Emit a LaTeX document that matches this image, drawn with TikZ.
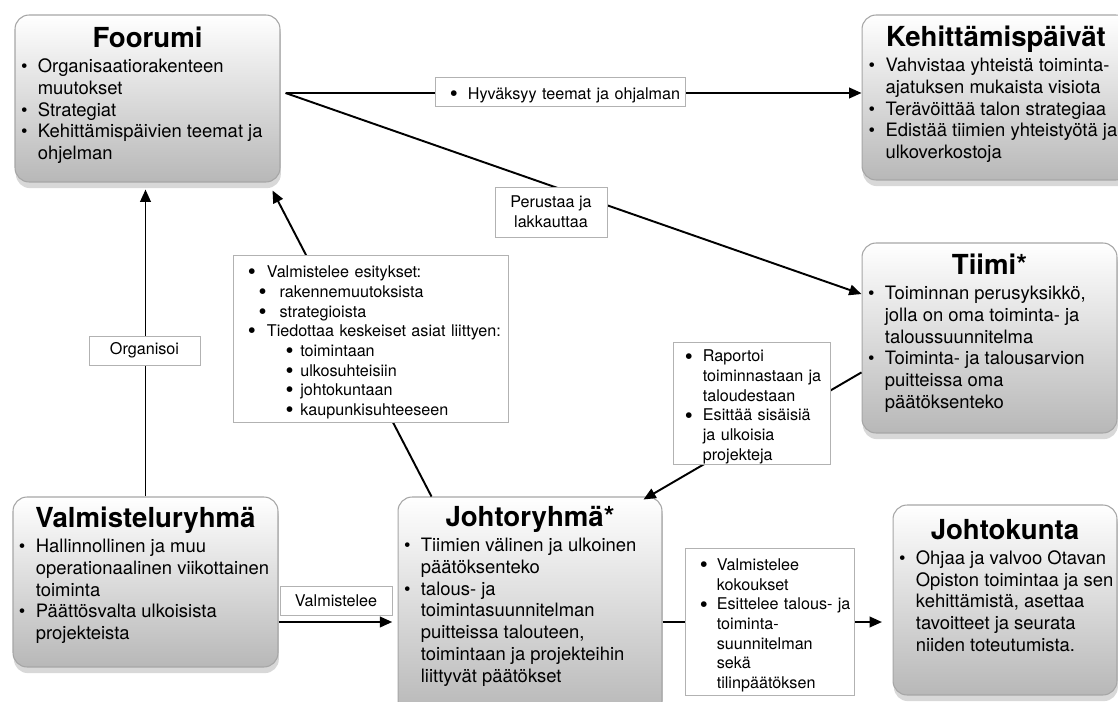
\documentclass[tikz,border=0pt]{standalone}
\usepackage{fontspec}
\setmainfont{TeX Gyre Heros}
\usetikzlibrary{arrows.meta, shadows, calc}

\newcommand{\titlefont}{\fontsize{15.7}{18}\selectfont\bfseries}
\newcommand{\bodyfont}{\normalfont\fontsize{10.5}{12.4}\selectfont}
\newcommand{\lblfont}{\fontsize{9.2}{11.2}\selectfont}

\newlength\bulw
\setlength\bulw{9.6pt}
\newcommand{\bulsym}{\textbullet}
\newcommand{\bul}[2][3.4pt]{\par\noindent\rightskip=-6pt plus 1fil\hyphenpenalty=10000
  \hangindent=\dimexpr#1+\bulw\relax\hangafter=1
  \hspace*{#1}\makebox[\bulw][l]{\bulsym}#2\par}
% width, height, top to title baseline, title, items
\newcommand{\paneltext}[5]{\parbox[c][#2][t]{#1}{\centering\rule{0pt}{#3}{\titlefont #4\par}
  \vspace{1.6pt}\raggedright\bodyfont #5}}
% bigger dot in the connector labels
\newcommand{\tagdot}{\renewcommand{\bulsym}{\smash{\raisebox{-0.25ex}{\fontsize{13}{13}\selectfont\textbullet}}}}

\begin{document}
\begin{tikzpicture}[x=0.02cm, y=-0.02cm,
    panel/.style={rectangle, rounded corners=8pt, draw=black!35, line width=0.6pt,
      top color=white, bottom color=black!28,
      drop shadow={shadow xshift=0.5pt, shadow yshift=-3.5pt, opacity=0.3}, inner sep=0pt},
    tag/.style={rectangle, draw=black!30, line width=0.5pt, fill=white, inner sep=0pt, font=\lblfont},
    link/.style={-{Triangle[length=7pt,width=6pt]}, line width=1.1pt}
]
\path[use as bounding box, fill=white] (0,0) rectangle (1118,702);

% main groups
\node[panel] (foorumi) at (147.5,98.5) {\paneltext{5.3cm}{3.34cm}{18.7pt}{Foorumi}{%
  \bul{Organisaatiorakenteen\newline muutokset}
  \bul{Strategiat}
  \bul{Kehittämispäivien teemat ja\newline ohjelman}}};
\node[panel] (kehitys) at (996,97.5) {\paneltext{5.36cm}{3.3cm}{18.2pt}{Kehittämispäivät}{%
  \bul[3.8pt]{Vahvistaa yhteistä toiminta-\newline ajatuksen mukaista visiota}
  \bul[3.8pt]{Terävöittää talon strategiaa}
  \bul[3.8pt]{Edistää tiimien yhteistyötä ja\newline ulkoverkostoja}}};
\node[panel] (tiimi) at (989.5,338) {\paneltext{5.1cm}{3.8cm}{18.2pt}{Tiimi*}{%
  \bul{Toiminnan perusyksikkö,\newline jolla on oma toiminta- ja\newline taloussuunnitelma}
  \bul{Toiminta- ja talousarvion\newline puitteissa oma\newline päätöksenteko}}};
\node[panel] (valmistelu) at (145.5,582) {\paneltext{5.3cm}{3.4cm}{17.6pt}{Valmisteluryhmä}{%
  \bul{Hallinnollinen ja muu\newline operationaalinen viikottainen\newline toiminta}
  \bul{Päättösvalta ulkoisista\newline projekteista}}};
\node[panel] (johto) at (530,606) {\paneltext{5.28cm}{4.36cm}{17pt}{Johtoryhmä*}{%
  \bul{Tiimien välinen ja ulkoinen\newline päätöksenteko}
  \bul{talous- ja\newline toimintasuunnitelman\newline puitteissa talouteen,\newline toimintaan ja projekteihin\newline liittyvät päätökset}}};
\node[panel] (kunta) at (1005,600) {\paneltext{4.48cm}{3.8cm}{19.8pt}{Johtokunta}{%
  \bul{Ohjaa ja valvoo Otavan\newline Opiston toimintaa ja sen\newline kehittämistä, asettaa\newline tavoitteet ja seurata\newline niiden toteutumista.}}};

% connectors
\coordinate (ulos) at ($(foorumi.east)+(5,-5.5)$);
\coordinate (v1) at ($(valmistelu.east)+(0,40)$);
\coordinate (j1) at ($(johto.east)+(0,16)$);
\draw[link] (ulos) -- (ulos -| kehitys.west);
\draw[link] (ulos) -- ($(tiimi.north west)!0.27!(tiimi.south west)$);
\draw[link, shorten >=4pt] (valmistelu.north) -- (valmistelu.north |- foorumi.south);
\draw[link] ($(johto.north west)+(34,0)$) -- ($(foorumi.south east)+(-8,8)$);
\draw[link] ($(tiimi.north west)!0.68!(tiimi.south west)$) -- ($(johto.north east)+(-19,3)$);
\draw[link, shorten >=3pt] (v1) -- (v1 -| johto.west);
\draw[link, shorten >=6pt] (j1) -- (j1 -| kunta.west);

% labels on connectors
\node[tag, minimum width=5cm, minimum height=0.58cm, text width=5cm] (hyvaksyy) at (560,91.5)
  {\tagdot\setlength\bulw{10.2pt}\bul[8.5pt]{Hyväksyy teemat ja ohjalman}};
\node[tag, align=center, minimum width=2.24cm, minimum height=1cm] (perustaa) at (551,212)
  {Perustaa ja\\lakkauttaa};
\node[tag, minimum width=2.22cm, minimum height=0.58cm] (organisoi) at (144.5,350.5) {Organisoi};
\node[tag, minimum width=2.24cm, minimum height=0.58cm] (valmistelee) at (336,600.5) {Valmistelee};
\node[tag, text width=5.5cm, minimum width=5.5cm, minimum height=3.34cm] (esitys) at (370.5,338.5) {%
  \tagdot
  \setlength\bulw{10.8pt}\bul[8.5pt]{Valmistelee esitykset:}
  \setlength\bulw{12pt}\bul[14.5pt]{rakennemuutoksista}
  \bul[14.5pt]{strategioista}
  \setlength\bulw{10.8pt}\bul[8.5pt]{Tiedottaa keskeiset asiat liittyen:}
  \setlength\bulw{8.3pt}\bul[30pt]{toimintaan}
  \bul[30pt]{ulkosuhteisiin}
  \bul[30pt]{johtokuntaan}
  \bul[30pt]{kaupunkisuhteeseen}};
\node[tag, text width=3.14cm, minimum width=3.14cm, minimum height=2.44cm] (raportoi) at (751.5,403) {%
  \tagdot\setlength\bulw{10.2pt}\bul[6.8pt]{Raportoi\newline toiminnastaan ja\newline taloudestaan}
  \bul[6.8pt]{Esittää sisäisiä\newline ja ulkoisia\newline projekteja}};
\node[tag, text width=3.38cm, minimum width=3.38cm, minimum height=2.94cm] (kokous) at (769.5,621.5) {%
  \tagdot\setlength\bulw{9.6pt}\bul[8.5pt]{Valmistelee\newline kokoukset}
  \bul[8.5pt]{Esittelee talous- ja\newline toiminta-\newline suunnitelman\newline sekä\newline tilinpäätöksen}};

\end{tikzpicture}
\end{document}
